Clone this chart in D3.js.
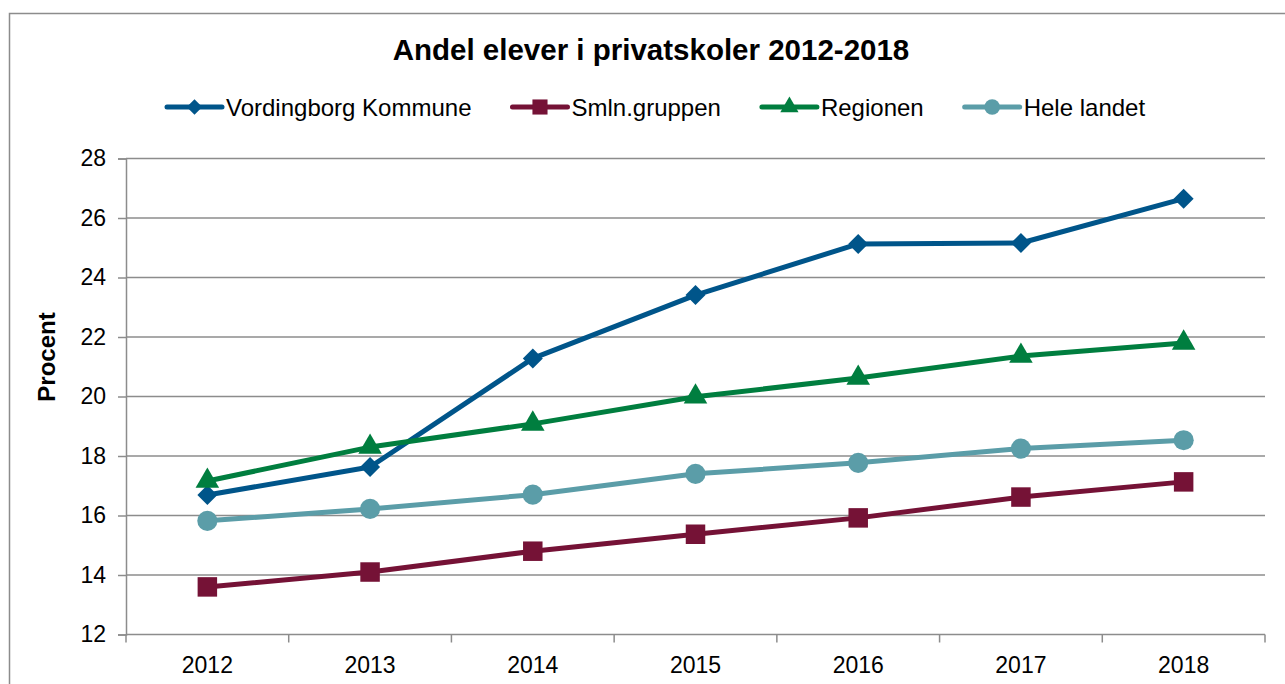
<!DOCTYPE html>
<html lang="da">
<head>
<meta charset="UTF-8">
<title>Andel elever i privatskoler 2012-2018</title>
<style>
  body { margin: 0; background: #fff; }
  svg { display: block; font-family: "Liberation Sans", Arial, sans-serif; }
</style>
</head>
<body>
<div id="chart"></div>
<script src="https://cdn.jsdelivr.net/npm/d3@7"></script>
<script>
// data
var years = ['2012', '2013', '2014', '2015', '2016', '2017', '2018'];
var vordingborg = [16.69, 17.63, 21.28, 23.41, 25.13, 25.16, 26.65];
var smln = [13.6, 14.1, 14.8, 15.37, 15.92, 16.62, 17.13];
var regionen = [17.16, 18.3, 19.08, 19.99, 20.62, 21.36, 21.8];
var heleLandet = [15.82, 16.22, 16.7, 17.4, 17.77, 18.25, 18.53];
var yTicks = [12, 14, 16, 18, 20, 22, 24, 26, 28];

var series = [
  { name: 'Vordingborg Kommune', values: vordingborg, color: '#00558a', marker: 'diamond' },
  { name: 'Smln.gruppen', values: smln, color: '#751236', marker: 'square' },
  { name: 'Regionen', values: regionen, color: '#007e3f', marker: 'triangle' },
  { name: 'Hele landet', values: heleLandet, color: '#5b9da8', marker: 'circle' }
];

var W = 1285, H = 684;
var svg = d3.select('#chart').append('svg').attr('width', W).attr('height', H);

// outer frame
svg.append('rect')
  .attr('x', 9.5).attr('y', 13.5)
  .attr('width', 1300).attr('height', 700)
  .attr('fill', 'none').attr('stroke', '#8c8c8c').attr('stroke-width', 1.5);

var plotLeft = 126, plotRight = 1265, plotTop = 158.5, plotBottom = 634.5;

var x = d3.scaleBand().domain(years).range([plotLeft, plotRight]);
var y = d3.scaleLinear().domain([12, 28]).range([plotBottom, plotTop]);

// grid
svg.append('g').selectAll('line').data(yTicks.slice(1)).enter().append('line')
  .attr('x1', plotLeft).attr('x2', plotRight)
  .attr('y1', function(d) { return y(d); }).attr('y2', function(d) { return y(d); })
  .attr('stroke', '#8c8c8c').attr('stroke-width', 1.5);

// y axis
var yAxis = svg.append('g').attr('transform', 'translate(' + plotLeft + ',0)')
  .call(d3.axisLeft(y).tickValues(yTicks).tickSize(8).tickPadding(12));
yAxis.select('.domain').attr('stroke', '#8c8c8c').attr('stroke-width', 1.5);
yAxis.selectAll('.tick line').attr('stroke', '#8c8c8c').attr('stroke-width', 1.5);
yAxis.selectAll('.tick text').attr('font-size', 23).attr('fill', '#000')
  .attr('font-family', '"Liberation Sans", Arial, sans-serif');

// x axis, ticks on band boundaries
var xg = svg.append('g').attr('transform', 'translate(0,' + plotBottom + ')');
xg.append('line').attr('x1', plotLeft).attr('x2', plotRight)
  .attr('stroke', '#8c8c8c').attr('stroke-width', 1.5);
var bounds = years.map(function(d) { return x(d); }).concat([plotRight]);
xg.selectAll('line.tk').data(bounds).enter().append('line').attr('class', 'tk')
  .attr('x1', function(d) { return d; }).attr('x2', function(d) { return d; })
  .attr('y1', 0).attr('y2', 8)
  .attr('stroke', '#8c8c8c').attr('stroke-width', 1.5);
xg.selectAll('text').data(years).enter().append('text')
  .attr('x', function(d) { return x(d) + x.bandwidth() / 2; })
  .attr('y', 38)
  .attr('text-anchor', 'middle').attr('font-size', 23)
  .text(function(d) { return d; });

// y title
svg.append('text')
  .attr('transform', 'translate(55,357) rotate(-90)')
  .attr('text-anchor', 'middle').attr('font-size', 24).attr('font-weight', 'bold')
  .text('Procent');

// title
svg.append('text')
  .attr('x', 651).attr('y', 60)
  .attr('text-anchor', 'middle').attr('font-size', 29.5).attr('font-weight', 'bold')
  .text('Andel elever i privatskoler 2012-2018');

// diamond = square turned 45 degrees (excel style)
function markerPath(type, size) {
  var sym = { diamond: d3.symbolSquare, square: d3.symbolSquare, triangle: d3.symbolTriangle, circle: d3.symbolCircle }[type];
  return d3.symbol().type(sym).size(size)();
}
function markerRot(type) { return type === 'diamond' ? ' rotate(45)' : ''; }
var markerSize = { diamond: 200, square: 380, triangle: 240, circle: 320 };

var line = d3.line()
  .x(function(d, i) { return x(years[i]) + x.bandwidth() / 2; })
  .y(function(d) { return y(d); });

series.forEach(function(s) {
  svg.append('path').datum(s.values)
    .attr('d', line).attr('fill', 'none')
    .attr('stroke', s.color).attr('stroke-width', 5).attr('stroke-linejoin', 'round');
  svg.append('g').selectAll('path').data(s.values).enter().append('path')
    .attr('transform', function(d, i) {
      return 'translate(' + (x(years[i]) + x.bandwidth() / 2) + ',' + y(d) + ')' + markerRot(s.marker);
    })
    .attr('d', markerPath(s.marker, markerSize[s.marker]))
    .attr('fill', s.color);
});

// legend
var legend = svg.append('g');
var lx = 167, ly = 107, lineLen = 55, gap = 41;
series.forEach(function(s) {
  var g = legend.append('g').attr('transform', 'translate(' + lx + ',' + ly + ')');
  g.append('line').attr('x1', 0).attr('x2', lineLen).attr('y1', 0).attr('y2', 0)
    .attr('stroke', s.color).attr('stroke-width', 5).attr('stroke-linecap', 'round');
  g.append('path').attr('transform', 'translate(' + lineLen / 2 + ',0)' + markerRot(s.marker))
    .attr('d', markerPath(s.marker, markerSize[s.marker] * 0.6)).attr('fill', s.color);
  var t = g.append('text').attr('x', lineLen + 4).attr('y', 8.5)
    .attr('font-size', 24).text(s.name);
  lx += lineLen + 4 + t.node().getComputedTextLength() + gap;
});
</script>
</body>
</html>
